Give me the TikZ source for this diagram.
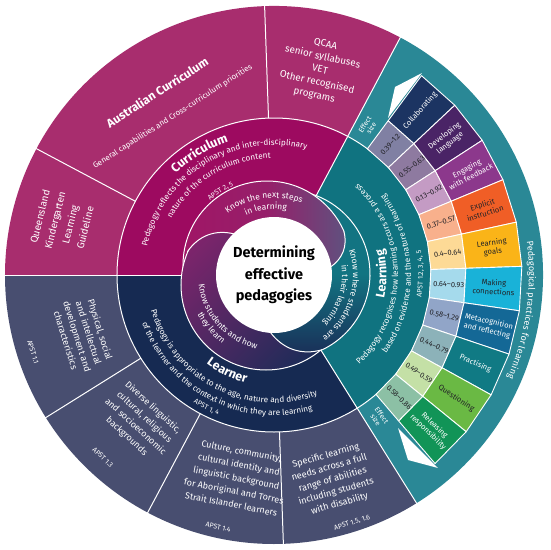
\documentclass[tikz,border=0pt]{standalone}
\usepackage{fontspec}
\setmainfont{Fira Sans}
\usetikzlibrary{decorations.text}
\definecolor{outmag}{RGB}{168,45,110}
\definecolor{curmag}{RGB}{157,10,96}
\definecolor{outgray}{RGB}{72,78,112}
\definecolor{lrnnavy}{RGB}{22,42,82}
\definecolor{lngteal}{RGB}{16,115,128}
\definecolor{outteal}{RGB}{42,136,150}
\definecolor{darktxt}{RGB}{35,35,40}
\definecolor{topmag}{RGB}{160,22,102}
\definecolor{topslate}{RGB}{92,84,128}
\definecolor{llpur}{RGB}{128,36,108}
\definecolor{llnavy}{RGB}{28,44,88}
\definecolor{rtteal}{RGB}{18,116,130}
\definecolor{rtnavy}{RGB}{26,44,86}
\definecolor{pr1}{RGB}{28,52,98}
\definecolor{pr2}{RGB}{74,36,102}
\definecolor{pr3}{RGB}{140,56,140}
\definecolor{pr4}{RGB}{240,94,38}
\definecolor{pr5}{RGB}{250,180,24}
\definecolor{pr6}{RGB}{25,178,216}
\definecolor{pr7}{RGB}{20,104,150}
\definecolor{pr8}{RGB}{16,122,132}
\definecolor{pr9}{RGB}{106,185,68}
\definecolor{pr10}{RGB}{17,148,87}
\definecolor{ef1}{RGB}{128,128,163}
\definecolor{ef2}{RGB}{142,122,160}
\definecolor{ef3}{RGB}{196,155,196}
\definecolor{ef4}{RGB}{248,176,140}
\definecolor{ef5}{RGB}{253,218,150}
\definecolor{ef6}{RGB}{165,218,236}
\definecolor{ef7}{RGB}{145,165,200}
\definecolor{ef8}{RGB}{140,178,185}
\definecolor{ef9}{RGB}{196,224,166}
\definecolor{ef10}{RGB}{140,192,165}
\newcommand\mysector[4]{\fill[#1] (0,0) -- (#2:#4pt) arc[start angle=#2,end angle=#3,radius=#4pt] -- cycle;}
\newcommand\cwtext[5]{%
  \pgfmathsetmacro\myA{#2+#3}\pgfmathsetmacro\myB{#2-#3}%
  \path[decorate,decoration={text along path,text align=center,text color=white,text={|#4|#5}}]
    (\myA:#1pt) arc[start angle=\myA,end angle=\myB,radius=#1pt];}
\newcommand\ccwtext[5]{%
  \pgfmathsetmacro\myA{#2+#3}\pgfmathsetmacro\myB{#2-#3}%
  \path[decorate,decoration={text along path,text align=center,text color=white,text={|#4|#5}}]
    (\myB:#1pt) arc[start angle=\myB,end angle=\myA,radius=#1pt];}
\tikzset{
  wline/.style={white,line width=1pt},
  outtext/.style={text=white,align=center,font=\fontsize{9}{13}\selectfont,inner sep=0pt},
  apst/.style={text=white,font=\fontsize{7}{8}\selectfont,inner sep=0pt},
  efftext/.style={text=darktxt,font=\fontsize{7.5}{8}\selectfont,inner sep=0pt},
  practext/.style={align=center,font=\fontsize{7.6}{9.2}\selectfont,inner sep=0pt},
  esize/.style={text=white,align=center,font=\fontsize{7}{7.5}\selectfont,inner sep=0pt},
  rshade/.style={top color=rtteal,bottom color=rtnavy,middle color=rtteal},
}
\begin{document}
\begin{tikzpicture}[x=1pt,y=1pt,line join=round]
\useasboundingbox[fill=white] (-274,-275) rectangle (276,275);
% outer ring
\mysector{outteal}{-58}{62}{269}
\mysector{outmag}{62}{180}{269}
\mysector{outgray}{180}{302}{269}
% middle ring
\mysector{lngteal}{-58}{62}{157}
\mysector{curmag}{62}{180}{157}
\mysector{lrnnavy}{180}{302}{157}
% white separators
\draw[wline] (0,0) circle[radius=157pt];
\foreach \a in {62,92,152,180,212,242,272,302}{\draw[wline] (\a:157pt) -- (\a:270pt);}
\foreach \a in {62,180,302}{\draw[wline] (\a:60pt) -- (\a:157pt);}
% white arrow heads
\fill[white] (148,202) -- (121,188) -- (114,157) -- cycle;
\fill[white] (124,-153) -- (134,-185) -- (164,-193) -- cycle;
% practice fan
\foreach \i/\Ec/\Pc/\Ev/\Pl/\Tc in {
 0/ef1/pr1/{0.39–1.2}/{Collaborating}/white,
 1/ef2/pr2/{0.55–0.63}/{Developing\\language}/white,
 2/ef3/pr3/{0.13–0.92}/{Engaging\\with feedback}/white,
 3/ef4/pr4/{0.37–0.57}/{Explicit\\instruction}/darktxt,
 4/ef5/pr5/{0.4–0.64}/{Learning\\goals}/darktxt,
 5/ef6/pr6/{0.64–0.93}/{Making\\connections}/darktxt,
 6/ef7/pr7/{0.58–1.29}/{Metacognition\\and reflecting}/white,
 7/ef8/pr8/{0.44–0.79}/{Practising}/white,
 8/ef9/pr9/{0.49–0.59}/{Questioning}/darktxt,
 9/ef10/pr10/{0.58–0.86}/{Releasing\\responsibility}/white}{
 \pgfmathsetmacro\aa{53.5-10.3*\i}
 \pgfmathsetmacro\ab{\aa-10.3}
 \pgfmathsetmacro\am{\aa-5.15}
 \filldraw[fill=\Ec,draw=white,line width=0.9pt] (\aa:157pt) -- (\aa:192pt) -- (\ab:192pt) -- (\ab:157pt) -- cycle;
 \filldraw[fill=\Pc,draw=white,line width=0.9pt] (\aa:192pt) -- (\aa:248pt) -- (\ab:248pt) -- (\ab:192pt) -- cycle;
 \node[efftext,rotate=\am] (eff\i) at (\am:175pt) {\Ev};
 \node[practext,text=\Tc,rotate=\am] (prac\i) at (\am:220pt) {\Pl};
}
\node[esize,rotate=57.7] (esA) at (57.7:176pt) {Effect\\size};
\node[esize,rotate=-53.7] (esB) at (-53.7:177pt) {Effect\\size};
% trefoil
\coordinate (ct) at (-7,10);
\coordinate (cr) at (12,1);
\coordinate (cl) at (-8,-10);
\begin{scope}
\clip (0,0) -- (-1:140pt) arc[start angle=-1,end angle=90,radius=140pt] -- cycle;
\shade[rshade] (cr) circle[radius=84pt];
\draw[wline] (cr) circle[radius=84pt];
\end{scope}
\begin{scope}
\clip (0,0) -- (8:57pt) to[bend right=35] (32:82.5pt) -- (32:140pt) arc[start angle=32,end angle=185,radius=140pt] -- cycle;
\shade[left color=topmag,right color=topslate,middle color=topmag!85!topslate] (ct) circle[radius=84pt];
\draw[wline] (ct) circle[radius=84pt];
\end{scope}
\draw[wline] (8:57pt) to[bend right=35] (32:82.5pt);
\begin{scope}
\clip (0,0) -- (134:57pt) to[bend right=35] (165:89.7pt) -- (165:140pt) arc[start angle=165,end angle=320,radius=140pt] -- cycle;
\shade[top color=llpur,bottom color=llnavy,shading angle=45] (cl) circle[radius=85pt];
\draw[wline] (cl) circle[radius=85pt];
\end{scope}
\draw[wline] (134:57pt) to[bend right=35] (165:89.7pt);
\begin{scope}
\clip (0,0) -- (-94:57pt) to[bend right=35] (-57:89pt) -- (-57:140pt) arc[start angle=-57,end angle=0,radius=140pt] -- cycle;
\shade[rshade] (cr) circle[radius=84pt];
\draw[wline] (cr) circle[radius=84pt];
\end{scope}
\draw[wline] (-94:57pt) to[bend right=35] (-57:89pt);
\fill[white] (0,0) circle[radius=58pt];
\node[font=\bfseries\fontsize{14.5}{21.5}\selectfont,align=center,text=black] (title) at (0,0) {Determining\\effective\\pedagogies};
% inner trefoil texts
\cwtext{77}{98}{80}{\fontsize{8.5}{10}\selectfont}{Know the next steps}
\cwtext{66}{97}{80}{\fontsize{8.5}{10}\selectfont}{in learning}
\cwtext{79}{-17}{80}{\fontsize{8.5}{10}\selectfont}{Know where students are}
\cwtext{68}{-18}{80}{\fontsize{8.5}{10}\selectfont}{in their learning}
\ccwtext{76}{222}{80}{\fontsize{8.5}{10}\selectfont}{Know students and how}
\ccwtext{86}{220}{80}{\fontsize{8.5}{10}\selectfont}{they learn}
% curriculum ring
\cwtext{141}{121.5}{85}{\bfseries\fontsize{12.5}{15}\selectfont}{Curriculum}
\cwtext{130}{121.5}{85}{\fontsize{8.2}{10}\selectfont}{Pedagogy reflects the disciplinary and inter-disciplinary}
\cwtext{117}{121.5}{85}{\fontsize{8.2}{10}\selectfont}{nature of the curriculum content}
\cwtext{98}{122.5}{80}{\fontsize{7}{8}\selectfont}{APST 2, 5}
% learning ring
\ccwtext{112.5}{0.5}{85}{\bfseries\fontsize{12.5}{15}\selectfont}{Learning}
\ccwtext{124}{0.5}{85}{\fontsize{8.2}{10}\selectfont}{Pedagogy recognises how learning occurs as a process}
\ccwtext{137}{0.5}{85}{\fontsize{8.2}{10}\selectfont}{based on evidence and the nature of learning}
\ccwtext{149}{0.5}{85}{\fontsize{7}{8}\selectfont}{APST 1.2, 3, 4, 5}
% learner ring
\ccwtext{111.5}{244}{85}{\bfseries\fontsize{12.5}{15}\selectfont}{Learner}
\ccwtext{128}{243}{85}{\fontsize{8.2}{10}\selectfont}{Pedagogy is appropriate to the age, nature and diversity}
\ccwtext{140.5}{243}{85}{\fontsize{8.2}{10}\selectfont}{of the learner and the context in which they are learning}
\ccwtext{151}{243}{85}{\fontsize{7}{8}\selectfont}{APST 1, 4}
% outer band text
\cwtext{255}{-8}{45}{\fontsize{9}{11}\selectfont}{Pedagogical practices for learning}
% outer ring texts
\node[outtext,rotate=-12.6,font=\fontsize{9.8}{13}\selectfont] (qcaa) at (77.4:210pt) {QCAA\\senior syllabuses\\VET\\Other recognised\\programs};
\node[text=white,font=\bfseries\fontsize{12}{14}\selectfont,rotate=32.6,inner sep=0pt] (auscur) at (122.6:217pt) {Australian Curriculum};
\node[text=white,font=\fontsize{8}{9}\selectfont,rotate=32.6,inner sep=0pt] (gencap) at (122.6:188pt) {General capabilities and Cross-curriculum priorities};
\node[outtext,font=\fontsize{10}{15.5}\selectfont,rotate=76] (qklg) at (166:218pt) {Queensland\\Kindergarten\\Learning\\Guideline};
\node[outtext,font=\fontsize{9.2}{12}\selectfont,rotate=-72.6] (phys) at (197.4:200pt) {Physical, social\\and intellectual\\development and\\characteristics};
\node[apst,rotate=-72.3] (apstA) at (197.7:253pt) {APST 1.1};
\node[outtext,rotate=-42.4] (div) at (227.6:199pt) {Diverse linguistic,\\cultural, religious\\and socioeconomic\\backgrounds};
\node[apst,rotate=-43.2] (apstB) at (226.8:250pt) {APST 1.3};
\node[outtext,font=\fontsize{9}{13.5}\selectfont,rotate=-11] (cult) at (259.5:206pt) {Culture, community,\\cultural identity and\\linguistic background\\for Aboriginal and Torres\\Strait Islander learners};
\node[apst,rotate=-12.5] (apstC) at (257.5:258pt) {APST 1.4};
\node[outtext,font=\fontsize{9.2}{12.5}\selectfont,rotate=16] (spec) at (286:213pt) {Specific learning\\needs across a full\\range of abilities\\including students\\with disability};
\node[apst,rotate=17.5] (apstD) at (287.5:260pt) {APST 1.5, 1.6};
\end{tikzpicture}
\end{document}
